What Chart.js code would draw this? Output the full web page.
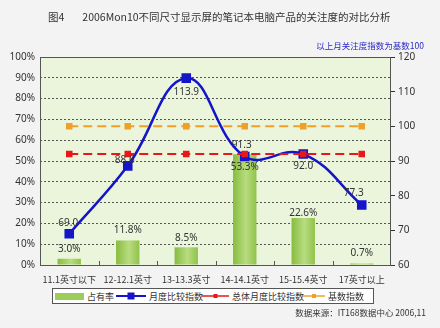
<!DOCTYPE html>
<html>
<head>
<meta charset="utf-8">
<script src="https://cdn.jsdelivr.net/npm/chart.js@4.4.1/dist/chart.umd.min.js"></script>
<style>
  html, body { margin: 0; padding: 0; background: #f3f3f3; }
  #wrap { position: relative; width: 440px; height: 328px; font-family: "Noto Sans CJK SC", "Noto Sans", sans-serif; color: #333; }
  #chart { position: absolute; left: 0; top: 0; }
  .txt { position: absolute; white-space: nowrap; }
  #title { left: 48px; top: 9px; font-size: 10.5px; }
  #title span { margin-right: 18px; }
  #note { right: 16px; top: 39px; font-size: 8.5px; color: #2828c8; }
  #source { right: 14px; top: 306px; font-size: 8.5px; }
  #legend { position: absolute; left: 52px; top: 288px; width: 320px; height: 14px; border: 1px solid #555; background: #fff; font-size: 9px; }
  .item { position: absolute; top: 0; height: 14px; display: flex; align-items: center; }
  .item canvas { margin-right: 3px; }
</style>
</head>
<body>
<div id="wrap">
  <canvas id="chart" width="440" height="328"></canvas>
  <div class="txt" id="title"><span>图4</span>2006Mon10不同尺寸显示屏的笔记本电脑产品的关注度的对比分析</div>
  <div class="txt" id="note">以上月关注度指数为基数100</div>
  <div id="legend"></div>
  <div class="txt" id="source">数据来源：IT168数据中心 2006,11</div>
</div>
<script>
const categories = ["11.1英寸以下", "12-12.1英寸", "13-13.3英寸", "14-14.1英寸", "15-15.4英寸", "17英寸以上"];
const shareRate = [3.0, 11.8, 8.5, 53.3, 22.6, 0.7];
const monthIndex = [69.0, 88.6, 113.9, 91.3, 92.0, 77.3];
const overallIndex = [92, 92, 92, 92, 92, 92];
const baseIndex = [100, 100, 100, 100, 100, 100];
const leftTicks = [0, 10, 20, 30, 40, 50, 60, 70, 80, 90, 100];
const rightTicks = [60, 70, 80, 90, 100, 110, 120];

const BLUE = "#1414c8", RED = "#e81818", ORANGE = "#f0a028";

// horizontal shading for each bar, centred on its category
function barFill(ctx) {
  const chart = ctx.chart;
  if (!chart.chartArea || ctx.type !== "data") return "#9ccc5a";
  const x = chart.scales.x.getPixelForValue(ctx.dataIndex);
  const g = chart.ctx.createLinearGradient(x - 12, 0, x + 12, 0);
  g.addColorStop(0, "#86bb3e");
  g.addColorStop(0.55, "#b8dc80");
  g.addColorStop(1, "#8fc248");
  return g;
}

const plotFrame = {
  id: "plotFrame",
  beforeDraw(chart) {
    const { ctx, chartArea: a } = chart;
    ctx.save();
    ctx.fillStyle = "#eaf5db";
    ctx.fillRect(a.left, a.top, a.right - a.left, a.bottom - a.top);
    ctx.restore();
  },
  afterDraw(chart) {
    const { ctx, chartArea: a } = chart;
    ctx.save();
    ctx.strokeStyle = "#555";
    ctx.lineWidth = 1;
    ctx.strokeRect(a.left + 0.5, a.top + 0.5, a.right - a.left - 1, a.bottom - a.top);
    // small ticks between categories on the bottom edge
    const x = chart.scales.x;
    ctx.beginPath();
    for (let i = 1; i < categories.length; i++) {
      const px = Math.round((x.getPixelForValue(i - 1) + x.getPixelForValue(i)) / 2) + 0.5;
      ctx.moveTo(px, a.bottom);
      ctx.lineTo(px, a.bottom - 4);
    }
    ctx.stroke();
    ctx.restore();
  }
};

// value labels next to the bars and the monthly index points
const barOffsets = [-10, -10, -9, 13, -5, -10];
const lineOffsets = [[-1, -11], [-3, -6], [0, 14], [-3, -11], [0, 12], [-8, -12]];
const valueLabels = {
  id: "valueLabels",
  afterDatasetsDraw(chart) {
    const ctx = chart.ctx;
    ctx.save();
    ctx.font = "10px 'Noto Sans', sans-serif";
    ctx.fillStyle = "#333";
    ctx.textAlign = "center";
    ctx.textBaseline = "middle";
    chart.getDatasetMeta(0).data.forEach((el, i) => {
      ctx.fillText(shareRate[i].toFixed(1) + "%", el.x, el.y + barOffsets[i]);
    });
    chart.getDatasetMeta(1).data.forEach((el, i) => {
      ctx.fillText(monthIndex[i].toFixed(1), el.x + lineOffsets[i][0], el.y + lineOffsets[i][1]);
    });
    ctx.restore();
  }
};

new Chart(document.getElementById("chart"), {
  data: {
    labels: categories,
    datasets: [{
      type: "bar",
      label: "占有率",
      data: shareRate,
      yAxisID: "y",
      backgroundColor: barFill,
      barPercentage: 0.4,
      categoryPercentage: 1,
      order: 4
    }, {
      type: "line",
      label: "月度比较指数",
      data: monthIndex,
      yAxisID: "y1",
      borderColor: BLUE,
      borderWidth: 2.5,
      tension: 0.42,
      pointStyle: "rect",
      pointRadius: 5,
      pointBackgroundColor: BLUE,
      pointBorderColor: BLUE,
      order: 3
    }, {
      type: "line",
      label: "总体月度比较指数",
      data: overallIndex,
      yAxisID: "y1",
      borderColor: RED,
      borderWidth: 2,
      borderDash: [9, 5],
      pointStyle: "rect",
      pointRadius: 3.2,
      pointBackgroundColor: RED,
      pointBorderColor: RED,
      order: 2
    }, {
      type: "line",
      label: "基数指数",
      data: baseIndex,
      yAxisID: "y1",
      borderColor: ORANGE,
      borderWidth: 2,
      borderDash: [9, 5],
      pointStyle: "rect",
      pointRadius: 3.2,
      pointBackgroundColor: ORANGE,
      pointBorderColor: ORANGE,
      order: 1
    }]
  },
  options: {
    responsive: false,
    animation: false,
    layout: { padding: { top: 57, left: 0, right: 0, bottom: 0 } },
    plugins: { legend: { display: false }, tooltip: { enabled: false } },
    scales: {
      x: {
        afterFit: s => { s.height = 63; },
        grid: { display: false },
        border: { display: false },
        ticks: {
          padding: 1, color: "#333", autoSkip: false, maxRotation: 0,
          font: { size: 9, family: "'Noto Sans CJK SC', sans-serif" }
        }
      },
      y: {
        position: "left",
        min: 0, max: 100,
        afterFit: s => { s.width = 40; },
        afterBuildTicks: s => { s.ticks = leftTicks.map(v => ({ value: v })); },
        border: { display: false, dash: [2, 2] },
        grid: {
          drawTicks: false,
          color: c => (c.tick.value === 0 || c.tick.value === 100) ? "rgba(0,0,0,0)" : "#555",
          lineWidth: 1
        },
        ticks: { padding: 5, color: "#333", font: { size: 10, family: "'Noto Sans', sans-serif" }, callback: v => v + "%" }
      },
      y1: {
        position: "right",
        min: 60, max: 120,
        afterFit: s => { s.width = 49; },
        afterBuildTicks: s => { s.ticks = rightTicks.map(v => ({ value: v })); },
        border: { display: false },
        grid: { drawOnChartArea: false, drawTicks: true, tickLength: 4, color: "#333" },
        ticks: { padding: 3, color: "#333", font: { size: 10, family: "'Noto Sans', sans-serif" } }
      }
    }
  },
  plugins: [plotFrame, valueLabels]
});

// legend swatches
const legendItems = [
  { text: "占有率", kind: "bar", color: "#9ccc5a", x: 2, w: 29 },
  { text: "月度比较指数", kind: "line", color: BLUE, x: 63, w: 30, size: 7 },
  { text: "总体月度比较指数", kind: "line", color: RED, x: 149, w: 27, size: 4 },
  { text: "基数指数", kind: "line", color: ORANGE, x: 250, w: 22, size: 4 }
];
const legend = document.getElementById("legend");
legendItems.forEach(it => {
  const d = document.createElement("div");
  d.className = "item";
  d.style.left = it.x + "px";
  const c = document.createElement("canvas");
  c.width = it.w; c.height = 10;
  const g = c.getContext("2d");
  if (it.kind === "bar") {
    g.fillStyle = it.color;
    g.fillRect(0, 2, it.w, 7);
  } else {
    g.strokeStyle = it.color;
    g.lineWidth = it.size > 5 ? 2 : 1.5;
    g.beginPath(); g.moveTo(0, 5); g.lineTo(it.w, 5); g.stroke();
    g.fillStyle = it.color;
    g.fillRect(it.w / 2 - it.size / 2, 5 - it.size / 2, it.size, it.size);
  }
  d.appendChild(c);
  d.appendChild(document.createTextNode(it.text));
  legend.appendChild(d);
});
</script>
</body>
</html>
